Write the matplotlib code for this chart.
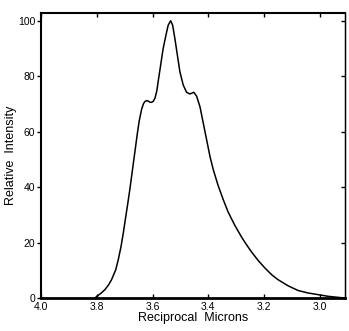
import numpy as np
import matplotlib
matplotlib.use('Agg')
import matplotlib.pyplot as plt

# spectrum (reciprocal microns, relative intensity)
wavenum = [3.806, 3.800, 3.785, 3.771, 3.758, 3.747, 3.732, 3.723, 3.713, 3.705,
           3.696, 3.689, 3.681, 3.671, 3.663, 3.655, 3.648, 3.639, 3.632, 3.627,
           3.621, 3.615, 3.609, 3.603, 3.597, 3.591, 3.585, 3.580, 3.571, 3.562,
           3.552, 3.544, 3.535, 3.528, 3.520, 3.511, 3.502, 3.490, 3.478, 3.466,
           3.452, 3.442, 3.430, 3.418, 3.406, 3.394, 3.382, 3.365, 3.347, 3.329,
           3.305, 3.281, 3.265, 3.245, 3.221, 3.197, 3.173, 3.150, 3.114, 3.078,
           3.042, 3.006, 2.970, 2.922, 2.905]
intensity = [0.0, 0.6, 1.7, 3.0, 4.7, 6.6, 10.2, 13.8, 18.6, 23.4,
             29.4, 34.0, 39.5, 47.0, 53.0, 59.0, 63.8, 68.2, 70.2, 70.9,
             71.2, 71.0, 70.6, 70.6, 71.0, 72.2, 74.6, 78.0, 84.0, 90.0,
             94.8, 98.4, 100.0, 98.4, 93.6, 87.6, 81.6, 76.8, 74.2, 73.6,
             74.2, 72.8, 69.0, 63.0, 57.0, 51.0, 46.2, 40.6, 35.6, 31.0,
             26.2, 22.0, 19.5, 16.6, 13.5, 10.8, 8.4, 6.6, 4.4, 2.7,
             1.8, 1.2, 0.6, 0.1, 0.0]

xticks = [4.0, 3.8, 3.6, 3.4, 3.2, 3.0]
yticks = [0, 20, 40, 60, 80, 100]

plt.rcParams['font.family'] = ['Liberation Sans', 'DejaVu Sans']

fig = plt.figure(figsize=(3.49, 3.31), dpi=100)
ax = fig.add_axes([0.1175, 0.0997, 0.871, 0.861])

ax.plot(wavenum, intensity, color='black', lw=1.1, solid_joinstyle='round')

ax.set_xlim(4.0, 2.91)
ax.set_ylim(0, 102.8)
ax.set_xticks(xticks)
ax.set_xticklabels(['%.1f' % t for t in xticks])
ax.set_yticks(yticks)

for side in ['left', 'top']:
    ax.spines[side].set_linewidth(1.5)
ax.spines['bottom'].set_linewidth(2.0)
ax.spines['right'].set_linewidth(1.0)

ax.tick_params(axis='x', direction='in', top=True, length=3, width=1,
               labelsize=7.5, pad=3)
ax.tick_params(axis='y', direction='out', right=False, length=3, width=1,
               labelsize=7.5, pad=1)
# inward ticks on the right edge
ax2 = ax.secondary_yaxis('right')
ax2.set_yticks(yticks)
ax2.tick_params(direction='in', length=3, width=1, labelright=False)

ax.set_xlabel('Reciprocal  Microns', fontsize=9, labelpad=0)
ax.set_ylabel('Relative  Intensity', fontsize=9, labelpad=1)

fig.savefig('out.png', dpi=100)
